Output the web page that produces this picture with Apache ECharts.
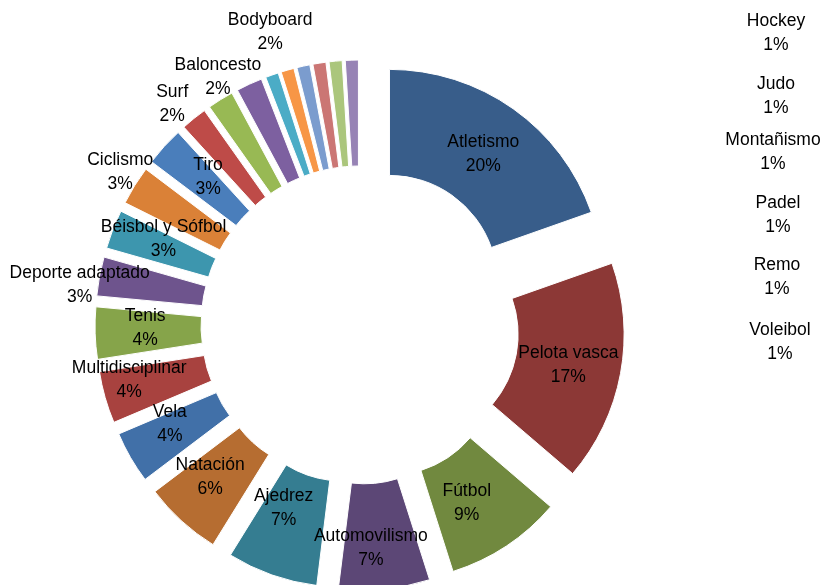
<!DOCTYPE html>
<html>
<head>
<meta charset="utf-8">
<script src="https://cdn.jsdelivr.net/npm/echarts@6/dist/echarts.min.js"></script>
<style>
  html, body { margin: 0; padding: 0; background: #fff; }
  #chart { width: 822px; height: 585px; }
</style>
</head>
<body>
<div id="chart"></div>
<script>
// Sports and their share (%), clockwise from 12 o'clock
const sports = [
  'Atletismo', 'Pelota vasca', 'Fútbol', 'Automovilismo', 'Ajedrez', 'Natación',
  'Vela', 'Multidisciplinar', 'Tenis', 'Deporte adaptado', 'Béisbol y Sófbol',
  'Ciclismo', 'Tiro', 'Surf', 'Baloncesto', 'Bodyboard',
  'Hockey', 'Judo', 'Montañismo', 'Padel', 'Remo', 'Voleibol'
];
const shares = [20, 17, 9, 7, 7, 6, 4, 4, 4, 3, 3, 3, 3, 2, 2, 2, 1, 1, 1, 1, 1, 1];

// Slice palette
const palette = [
  '#385D8A', '#8C3836', '#71893F', '#5C4776', '#357D91', '#B66D31',
  '#4170A8', '#A8423F', '#86A44A', '#6E548D', '#3D96AE', '#DA8137',
  '#4A7EBB', '#BE4B48', '#98B954', '#7D60A0', '#4BACC6', '#F79646',
  '#7B9CCE', '#CB7674', '#ABC67C', '#9783B5'
];

// Label nudges from the default in-slice position (px)
const labelNudge = [
  [-1, 5], [-3, 1], [-12, -1], [-9, 9], [-5, -20], [-5, -7],
  [-4, -8], [-24, -4], [0, -3], [-69, 0], [4, -8],
  [-57, -40], [7, -3], [-53, -53], [-29, -65], [0, -98]
];
// Centres of the 1% labels, stacked in a column on the right
const sideLabels = [[776, 33], [776, 96], [773, 152], [778, 215], [777, 277], [780, 342]];

const EXPLODE = 51;
const total = shares.reduce((a, b) => a + b, 0);
// Mid-angle of each slice, clockwise from 12 o'clock (radians)
const midAngles = [];
shares.reduce((acc, v) => { midAngles.push((acc + v / 2) / total * 2 * Math.PI); return acc + v; }, 0);

const chart = echarts.init(document.getElementById('chart'), null, { renderer: 'canvas' });

chart.setOption({
  animation: false,
  backgroundColor: '#ffffff',
  series: [{
    type: 'pie',
    center: [360, 325],
    radius: [108, 214],
    startAngle: 90,
    clockwise: true,
    selectedMode: 'multiple',
    selectedOffset: EXPLODE,
    avoidLabelOverlap: false,
    emphasis: { disabled: true },
    itemStyle: { borderColor: '#ffffff', borderWidth: 1 },
    select: { itemStyle: { borderColor: '#ffffff', borderWidth: 1 } },
    label: {
      show: true,
      position: 'inside',
      formatter: '{b}\n{c}%',
      color: '#000000',
      fontFamily: 'Liberation Sans, Arial, sans-serif',
      fontSize: 17.5,
      lineHeight: 24,
      align: 'center'
    },
    labelLine: { show: false },
    labelLayout: function (p) {
      const i = p.dataIndex;
      if (i < labelNudge.length) {
        return { dx: labelNudge[i][0], dy: labelNudge[i][1] };
      }
      // labelRect is measured before the explode offset is applied
      const target = sideLabels[i - labelNudge.length];
      const r = p.labelRect;
      const a = midAngles[i];
      const ox = EXPLODE * Math.sin(a);
      const oy = -EXPLODE * Math.cos(a);
      return {
        dx: target[0] - (r.x + r.width / 2) - ox,
        dy: target[1] - (r.y + r.height / 2) - oy
      };
    },
    data: sports.map((name, i) => ({
      name: name,
      value: shares[i],
      selected: true,
      itemStyle: { color: palette[i] },
      select: { itemStyle: { color: palette[i] } }
    }))
  }]
});
</script>
</body>
</html>
